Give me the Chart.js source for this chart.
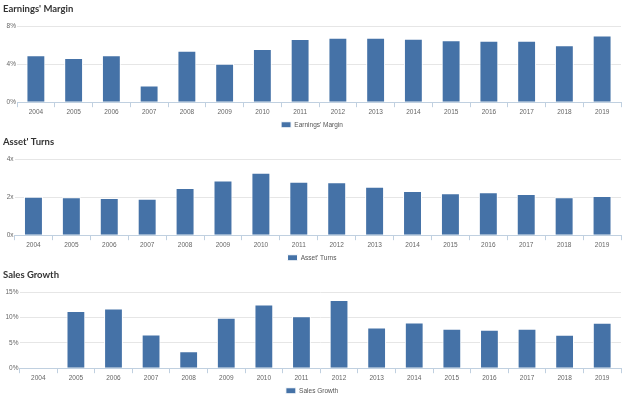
<!DOCTYPE html>
<html>
<head>
<meta charset="utf-8">
<script src="https://cdn.jsdelivr.net/npm/chart.js@4/dist/chart.umd.min.js"></script>
<style>
  body { margin: 0; background: #fff; width: 624px; height: 399px; overflow: hidden; position: relative; }
  canvas { position: absolute; left: 0; }
</style>
</head>
<body>
<canvas id="marginChart" width="624" height="138" style="top:0px"></canvas>
<canvas id="turnsChart" width="624" height="138" style="top:133px"></canvas>
<canvas id="growthChart" width="624" height="138" style="top:266px"></canvas>
<script>
const years = ['2004', '2005', '2006', '2007', '2008', '2009', '2010', '2011',
               '2012', '2013', '2014', '2015', '2016', '2017', '2018', '2019'];

// Earnings' Margin (%)
const marginValues = [4.95, 4.67, 4.95, 1.75, 5.44, 4.07, 5.61, 6.67,
                      6.8, 6.8, 6.7, 6.53, 6.49, 6.49, 6.0, 7.05];
const marginTicks = [0, 4, 8];

// Asset' Turns (x)
const turnsValues = [2.03, 2.0, 1.96, 1.93, 2.49, 2.89, 3.29, 2.82,
                     2.79, 2.56, 2.33, 2.21, 2.26, 2.17, 2.0, 2.07];
const turnsTicks = [0, 2, 4];

// Sales Growth (%)
const growthValues = [null, 11.3, 11.8, 6.67, 3.37, 9.96, 12.6, 10.3,
                      13.5, 8.06, 9.05, 7.8, 7.6, 7.8, 6.6, 8.97];
const growthTicks = [0, 5, 10, 15];

const barColor = '#4572a7';
const labelFont = "'Liberation Sans', Arial, sans-serif";

function createBarChart(id, title, seriesName, values, ticks, suffix, yWidth) {
    const ctx = document.getElementById(id).getContext('2d');
    new Chart(ctx, {
        type: 'bar',
        data: {
            labels: years,
            datasets: [{
                label: seriesName,
                data: values,
                backgroundColor: barColor,
                borderColor: '#ffffff',
                borderWidth: 1,
                barPercentage: 0.5,
                categoryPercentage: 1
            }]
        },
        options: {
            responsive: false,
            animation: false,
            layout: { padding: { left: 3, right: 3, top: 0, bottom: 0 } },
            plugins: {
                tooltip: { enabled: false },
                title: {
                    display: true,
                    text: title,
                    align: 'start',
                    color: '#333333',
                    font: { family: "Lato, 'Open Sans', sans-serif", size: 9.5, weight: 'bold' },
                    padding: { top: 3, bottom: 12 }
                },
                legend: {
                    position: 'bottom',
                    labels: {
                        boxWidth: 10,
                        boxHeight: 6,
                        color: '#555555',
                        padding: 4.5,
                        font: { family: labelFont, size: 6.5 }
                    }
                }
            },
            scales: {
                x: {
                    grid: {
                        drawOnChartArea: false,
                        drawTicks: true,
                        tickLength: 5,
                        color: '#c0d0e0',
                        offset: true
                    },
                    border: { color: '#c0d0e0' },
                    ticks: {
                        color: '#666666',
                        padding: 1,
                        font: { family: labelFont, size: 6.5 },
                        maxRotation: 0
                    }
                },
                y: {
                    min: ticks[0],
                    max: ticks[ticks.length - 1],
                    afterBuildTicks: axis => { axis.ticks = ticks.map(v => ({ value: v })); },
                    afterFit: axis => { axis.width = yWidth; },
                    grid: { color: '#e6e6e6', drawTicks: false },
                    border: { display: false },
                    ticks: {
                        color: '#666666',
                        padding: 1,
                        font: { family: labelFont, size: 6.5 },
                        callback: v => v + suffix
                    }
                }
            }
        }
    });
}

createBarChart('marginChart', "Earnings' Margin", "Earnings' Margin", marginValues, marginTicks, '%', 14);
createBarChart('turnsChart', "Asset' Turns", "Asset' Turns", turnsValues, turnsTicks, 'x', 11.5);
createBarChart('growthChart', 'Sales Growth', 'Sales Growth', growthValues, growthTicks, '%', 16.5);
</script>
</body>
</html>
